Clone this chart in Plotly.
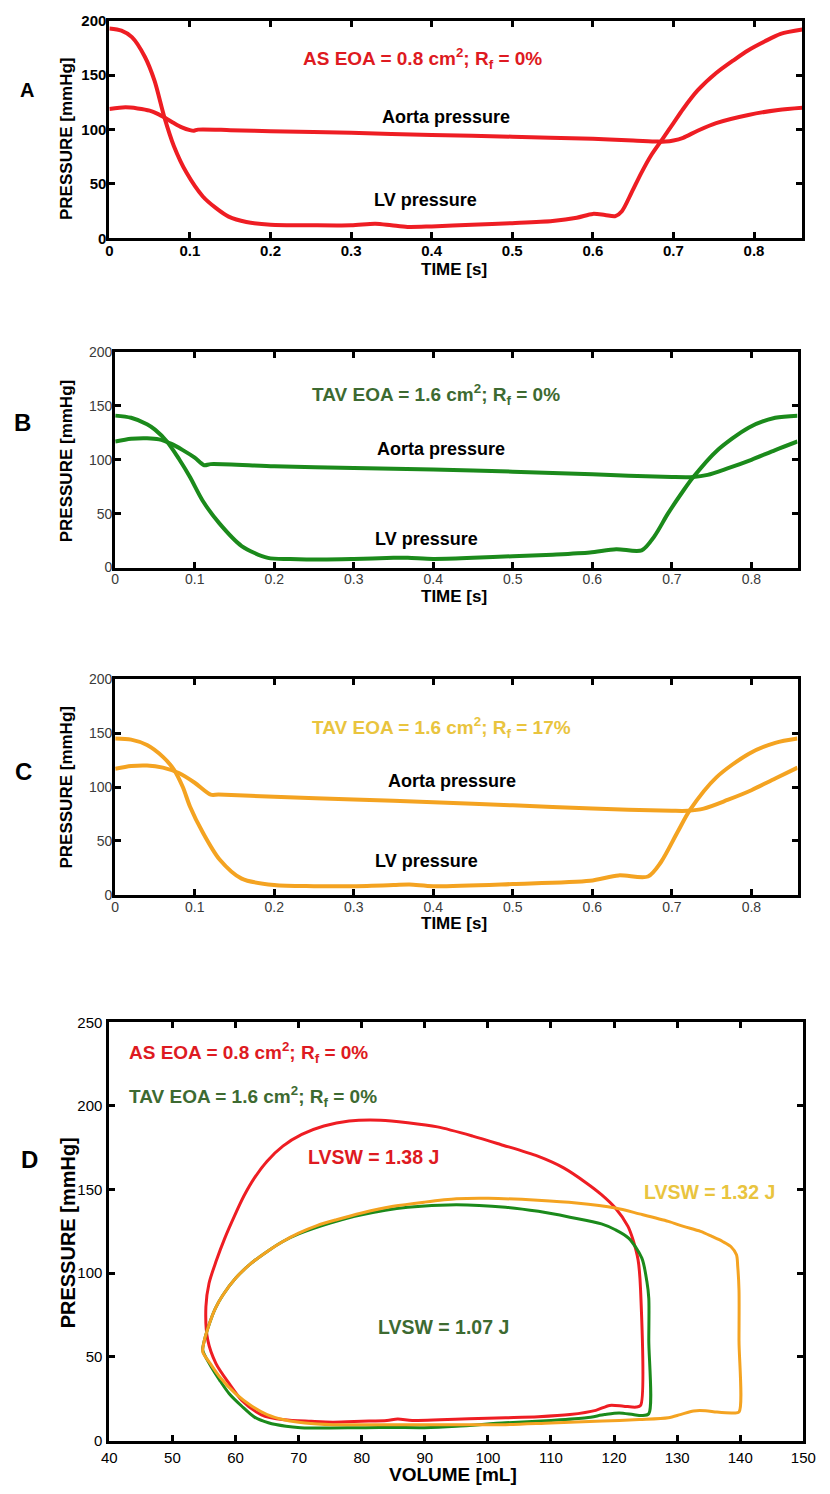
import plotly.graph_objects as go

# ---------------------------------------------------------------- data
# Panel A: aortic stenosis, EOA 0.8 cm2, no regurgitation
t_lv_a = [0, 0.015, 0.028, 0.044, 0.056, 0.068, 0.08, 0.096, 0.116, 0.132, 0.148,
          0.17, 0.2, 0.25, 0.3, 0.33, 0.35, 0.37, 0.4, 0.45, 0.5, 0.55, 0.58,
          0.6, 0.615, 0.628, 0.636, 0.648, 0.66, 0.672, 0.687, 0.7, 0.712, 0.73,
          0.753, 0.775, 0.793, 0.813, 0.833, 0.86]
p_lv_a = [193, 191, 185, 167, 145, 112, 85, 60, 38.5, 28, 20,
          15, 12.5, 12, 12, 13.5, 12, 10.5, 11, 12.5, 14, 16, 19,
          22.5, 21.5, 20.5, 25, 42, 60, 76, 92, 106, 119, 136,
          152, 164, 173, 181, 188, 192]
t_ao_a = [0, 0.02, 0.035, 0.05, 0.06, 0.07, 0.08, 0.09, 0.1, 0.105, 0.11, 0.15, 0.2,
          0.3, 0.4, 0.5, 0.6, 0.65, 0.68, 0.69, 0.7, 0.712, 0.73, 0.753, 0.793,
          0.83, 0.86]
p_ao_a = [119, 120.5, 119.5, 117.5, 114.5, 110.5, 106, 102, 99.5, 99, 100, 99.5, 98.5,
          97, 95, 93.5, 91.5, 90, 89, 89, 90, 92.5, 99, 106, 113.5,
          118, 120]

# Panel B: TAV, EOA 1.6 cm2, no regurgitation
t_lv_b = [0, 0.02, 0.04, 0.05, 0.065, 0.08, 0.094, 0.11, 0.131, 0.159, 0.192, 0.22,
          0.26, 0.3, 0.35, 0.368, 0.4, 0.45, 0.5, 0.55, 0.597, 0.63, 0.662, 0.678,
          0.695, 0.715, 0.727, 0.756, 0.797, 0.83, 0.858]
p_lv_b = [141, 139, 133, 128, 117, 101, 84, 62, 41, 20, 9, 8,
          7.5, 8, 9, 9, 8, 9, 10.5, 12, 14, 17, 16, 29,
          50, 72, 84, 108, 130, 139, 141]
t_ao_b = [0, 0.02, 0.04, 0.055, 0.07, 0.085, 0.1, 0.112, 0.12, 0.2, 0.3, 0.4, 0.5,
          0.6, 0.7, 0.727, 0.745, 0.77, 0.8, 0.83, 0.858]
p_ao_b = [117, 119.5, 120, 119, 115, 109, 102, 95, 96, 94, 92.5, 91, 89,
          86.5, 84, 84, 86, 92, 100, 109, 117]

# Panel C: TAV, EOA 1.6 cm2, 17 % regurgitant fraction
t_lv_c = [0, 0.02, 0.04, 0.06, 0.074, 0.085, 0.094, 0.11, 0.131, 0.159, 0.2, 0.25,
          0.3, 0.35, 0.37, 0.4, 0.5, 0.597, 0.633, 0.67, 0.686, 0.707, 0.723,
          0.756, 0.797, 0.83, 0.858]
p_lv_c = [145, 144, 139, 128, 116, 100, 82, 58, 33, 15, 9, 8,
          8, 9, 9.5, 8, 10, 13, 18, 17, 30, 58, 79,
          109, 131, 141, 145]
t_ao_c = [0, 0.02, 0.04, 0.06, 0.08, 0.1, 0.12, 0.13, 0.2, 0.3, 0.4, 0.5, 0.6,
          0.7, 0.72, 0.74, 0.77, 0.8, 0.83, 0.858]
p_ao_c = [117, 119.5, 120, 118, 113, 104, 93, 93, 91, 88.5, 86, 83, 80,
          78, 78, 80, 88, 97, 108, 118]

# Panel D: pressure-volume loops (isovolumic contraction -> ejection ->
# relaxation -> filling)
vol_as = [124.2, 124.2, 123.8, 123.0, 122.2, 120.2, 118, 115.6, 112, 107.9, 102, 97.6,
          92, 87.3, 83, 78, 74, 70.5, 67.5, 65, 63, 61.3, 59.8, 58.3, 56.9, 55.8,
          55.3, 55.6, 56.9, 59, 61, 64.1, 67.7, 72, 75.4, 80, 84, 85.7, 88, 92.4,
          97, 102.8, 108, 113, 117.1, 119.3, 121.5, 123.5, 124.2]
p_as = [21, 90, 108, 120, 128, 139, 147, 154, 163, 170, 177, 182,
        187.5, 190, 191.5, 191, 188, 183, 176, 167, 157, 146, 134, 121, 107, 94,
        80, 60, 46, 34, 24, 15.4, 12.4, 11.5, 11, 11.5, 12, 12.8, 12, 12.4,
        13, 13.6, 14.2, 15.5, 18, 21, 20.5, 20, 21]

vol_tav = [125.5, 125.5, 125.5, 125.2, 124.4, 122.3, 120.2, 118, 113, 108, 102.8, 95,
           87.3, 80, 75, 70, 67.5, 65.2, 62.5, 60, 58, 56.8, 55.6, 55.0, 54.8, 56,
           57.5, 59, 61, 63, 65.2, 68, 70.3, 75, 80.6, 85, 89.9, 95, 102.8, 110,
           115.6, 118.5, 120.8, 123, 124.4, 125.5]
p_tav = [16, 60, 85, 95, 109, 121, 126, 129.5, 133.5, 137, 139.5, 141,
         139.5, 135, 130, 123.5, 119, 113.5, 106, 97, 87, 79, 67, 59, 54, 45,
         36, 28, 20.5, 14, 10.6, 8.5, 7.7, 7.5, 7.7, 7.8, 7.7, 8.5, 10.6, 12,
         13.6, 15.5, 16.5, 15.5, 14.9, 16]

vol_tav_r = [139.8, 139.8, 139.8, 139.6, 139.4, 138.5, 137.2, 135.5, 133.7, 131, 128.6,
             124, 120.2, 114, 107.9, 100.1, 95, 89.9, 85, 80, 76, 72.9, 70, 67.5,
             65.2, 62.5, 60, 58, 56.8, 55.6, 55.0, 54.8, 56, 57.5, 60, 62.6, 65,
             67.7, 71, 75.4, 80, 87.3, 95, 102.8, 110, 118.2, 124, 128.6, 130.5,
             132.6, 134.5, 136.3, 138.8, 139.8]
p_tav_r = [17, 60, 90, 104, 111, 116, 119, 122, 125, 128, 131,
           135.5, 139, 142, 143.6, 144.8, 144.5, 142.5, 140, 136, 132, 128.5, 124, 119,
           113.5, 106, 97, 87, 79, 67, 59, 53, 46, 38, 28, 20.5, 15.5,
           12.4, 10.5, 9.5, 9.5, 9.5, 9.5, 9.5, 10.5, 11.6, 12.5, 13.6, 15.5,
           17.7, 17.8, 17, 16.5, 17]

time_ticks = [0, 0.1, 0.2, 0.3, 0.4, 0.5, 0.6, 0.7, 0.8]
pressure_ticks = [0, 50, 100, 150, 200]
vol_ticks = [40, 50, 60, 70, 80, 90, 100, 110, 120, 130, 140, 150]
pv_pressure_ticks = [0, 50, 100, 150, 200, 250]

# ---------------------------------------------------------------- style
W, H = 830, 1494
FONT = "Liberation Sans, Arial, sans-serif"
RED = "#ee1d23"
GREEN = "#1b8a1b"
ORANGE = "#f4a321"
RED_TXT = "#de1a21"
GREEN_TXT = "#3d6a31"
YELLOW_TXT = "#e9c43e"


def px(x):
    return x / W


def py(y):
    return 1 - y / H


fig = go.Figure()


def curve(x, y, color, width, ax):
    fig.add_trace(go.Scatter(
        x=x, y=y, mode="lines", xaxis=ax[0], yaxis=ax[1], showlegend=False,
        line=dict(color=color, width=width, shape="spline", smoothing=0.8),
        hoverinfo="skip"))


curve(t_ao_a, p_ao_a, RED, 4, ("x", "y"))
curve(t_lv_a, p_lv_a, RED, 4, ("x", "y"))
curve(t_ao_b, p_ao_b, GREEN, 4, ("x2", "y2"))
curve(t_lv_b, p_lv_b, GREEN, 4, ("x2", "y2"))
curve(t_ao_c, p_ao_c, ORANGE, 4, ("x3", "y3"))
curve(t_lv_c, p_lv_c, ORANGE, 4, ("x3", "y3"))
curve(vol_as, p_as, RED, 3, ("x4", "y4"))
curve(vol_tav, p_tav, GREEN, 3, ("x4", "y4"))
curve(vol_tav_r, p_tav_r, ORANGE, 3, ("x4", "y4"))


def axis(domain, rng, ticks, font, anchor, standoff=-3):
    return dict(domain=domain, range=rng, tickvals=ticks, anchor=anchor,
                showline=True, linecolor="black", linewidth=3, mirror="ticks",
                ticks="inside", ticklen=6, tickwidth=2.5, tickcolor="black",
                ticklabelstandoff=standoff,
                showgrid=False, zeroline=False, tickfont=font, fixedrange=True)


bold_tick = dict(family=FONT, size=15, color="black", weight="bold")
gray_tick = dict(family=FONT, size=14, color="#3a3a3a")
d_tick = dict(family=FONT, size=15, color="black")

xa = [px(104), px(815)]
xb = [px(110), px(810)]
xd = [px(104), px(816)]

fig.update_layout(
    width=W, height=H, margin=dict(l=0, r=0, t=0, b=0),
    paper_bgcolor="white", plot_bgcolor="white", showlegend=False,
    xaxis=axis(xa, [0, 0.86], time_ticks, bold_tick, "y"),
    yaxis=axis([py(232), py(12)], [0, 200], pressure_ticks, bold_tick, "x"),
    xaxis2=axis(xb, [0, 0.858], time_ticks, gray_tick, "y2"),
    yaxis2=axis([py(565), py(347)], [0, 200], pressure_ticks, gray_tick, "x2"),
    xaxis3=axis(xb, [0, 0.858], time_ticks, gray_tick, "y3"),
    yaxis3=axis([py(896), py(678)], [0, 200], pressure_ticks, gray_tick, "x3"),
    xaxis4=axis(xd, [40, 150], vol_ticks, d_tick, "y4", standoff=1),
    yaxis4=axis([py(1448), py(1025)], [0, 250], pv_pressure_ticks, d_tick, "x4",
                standoff=1),
)

ann = []


def text(x, y, s, color="black", size=17, xref="paper", yref="paper",
         xanchor="center", angle=0):
    ann.append(dict(x=x, y=y, xref=xref, yref=yref, text=s, showarrow=False,
                    xanchor=xanchor, yanchor="middle", textangle=angle,
                    font=dict(family=FONT, size=size, color=color, weight="bold")))


# panel letters
text(px(20), py(82), "A", size=20)
text(px(15), py(418), "B", size=24)
text(px(16), py(771), "C", size=24)
text(px(22), py(1164), "D", size=24)

# axis titles
for cy in (131, 457, 787):
    text(px(60), py(cy), "PRESSURE [mmHg]", size=17, angle=-90)
text(px(61), py(1238), "PRESSURE [mmHg]", size=20, angle=-90)
text(px(458), py(264), "TIME [s]", size=17)
text(px(458), py(594), "TIME [s]", size=17)
text(px(458), py(925), "TIME [s]", size=17)
text(px(457), py(1482), "VOLUME [mL]", size=19)

as_label = "AS EOA = 0.8 cm<sup>2</sup>; R<sub>f</sub> = 0%"
tav_label = "TAV EOA = 1.6 cm<sup>2</sup>; R<sub>f</sub> = 0%"
tav_r_label = "TAV EOA = 1.6 cm<sup>2</sup>; R<sub>f</sub> = 17%"

# panel A
text(0.388, 165, as_label, RED_TXT, 19, "x", "y")
text(0.418, 112, "Aorta pressure", "black", 18, "x", "y")
text(0.392, 35, "LV pressure", "black", 18, "x", "y")
# panel B
text(0.404, 160.5, tav_label, GREEN_TXT, 19, "x2", "y2")
text(0.41, 110, "Aorta pressure", "black", 18, "x2", "y2")
text(0.392, 26.6, "LV pressure", "black", 18, "x2", "y2")
# panel C
text(0.41, 155, tav_r_label, YELLOW_TXT, 19, "x3", "y3")
text(0.423, 105.5, "Aorta pressure", "black", 18, "x3", "y3")
text(0.392, 31, "LV pressure", "black", 18, "x3", "y3")
# panel D
text(42.8, 231.7, as_label, RED_TXT, 19, "x4", "y4", xanchor="left")
text(42.8, 205.7, tav_label, GREEN_TXT, 19, "x4", "y4", xanchor="left")
text(81.9, 169.6, "LVSW = 1.38 J", RED_TXT, 19.5, "x4", "y4")
text(135.2, 148.3, "LVSW = 1.32 J", YELLOW_TXT, 19.5, "x4", "y4")
text(93, 68, "LVSW = 1.07 J", GREEN_TXT, 19.5, "x4", "y4")

fig.update_layout(annotations=ann)
fig.write_html("out.html")
